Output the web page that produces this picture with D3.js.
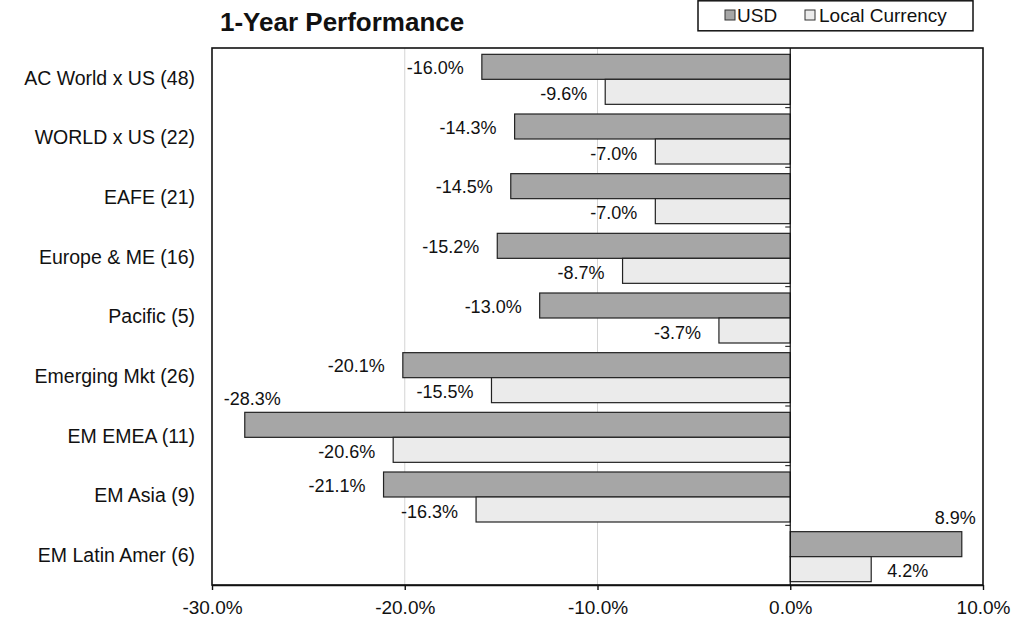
<!DOCTYPE html>
<html>
<head>
<meta charset="utf-8">
<script src="https://cdn.jsdelivr.net/npm/d3@7"></script>
<style>
  body { margin: 0; background: #fff; }
  svg text { font-family: "Liberation Sans", Arial, sans-serif; fill: #111; }
</style>
</head>
<body>
<svg id="chart" width="1030" height="621"></svg>
<script>
const categories = ["AC World x US (48)", "WORLD x US (22)", "EAFE (21)", "Europe & ME (16)",
    "Pacific (5)", "Emerging Mkt (26)", "EM EMEA (11)", "EM Asia (9)", "EM Latin Amer (6)"];
const usd = [-16.0, -14.3, -14.5, -15.2, -13.0, -20.1, -28.3, -21.1, 8.9];
const local = [-9.6, -7.0, -7.0, -8.7, -3.7, -15.5, -20.6, -16.3, 4.2];
const seriesNames = ["USD", "Local Currency"];
const xTicks = [-30, -20, -10, 0, 10];

const colors = { "USD": "#a6a6a6", "Local Currency": "#ebebeb" };

const svg = d3.select("#chart");
const plot = { left: 212, right: 983, top: 48, bottom: 585 };

const x = d3.scaleLinear().domain([-30, 10]).range([plot.left, plot.right]);
const y = d3.scaleBand().domain(categories).range([plot.top, plot.bottom]);
const barH = 25;
const inner = d3.scaleBand().domain(seriesNames).range([0, barH * 2]);

const rows = [];
categories.forEach((c, i) => {
    rows.push({ cat: c, series: "USD", value: usd[i] });
    rows.push({ cat: c, series: "Local Currency", value: local[i] });
});

// gridlines
svg.append("g").selectAll("line")
    .data(xTicks.filter(t => t !== 0 && t !== -30 && t !== 10))
    .join("line")
    .attr("x1", d => x(d)).attr("x2", d => x(d))
    .attr("y1", plot.top).attr("y2", plot.bottom)
    .attr("stroke", "#d4d4d4").attr("stroke-width", 1);

const barTop = d => y(d.cat) + (y.bandwidth() - barH * 2) / 2 + 1.5 + inner(d.series);

svg.append("g").selectAll("rect")
    .data(rows)
    .join("rect")
    .attr("x", d => x(Math.min(0, d.value)))
    .attr("y", barTop)
    .attr("width", d => Math.abs(x(d.value) - x(0)))
    .attr("height", barH)
    .attr("fill", d => colors[d.series])
    .attr("stroke", "#222")
    .attr("stroke-width", 1.2);

// zero axis with category separators
const zero = svg.append("g");
zero.append("line")
    .attr("x1", x(0)).attr("x2", x(0))
    .attr("y1", plot.top).attr("y2", plot.bottom)
    .attr("stroke", "#111").attr("stroke-width", 1.2);
zero.selectAll("line.sep")
    .data(categories.slice(1))
    .join("line")
    .attr("class", "sep")
    .attr("x1", x(0) - 5).attr("x2", x(0))
    .attr("y1", d => y(d)).attr("y2", d => y(d))
    .attr("stroke", "#111").attr("stroke-width", 1);

// value labels
const fmt = v => v.toFixed(1) + "%";
svg.append("g").selectAll("text")
    .data(rows)
    .join("text")
    .style("font-size", "18px")
    .each(function (d) {
        const t = d3.select(this).text(fmt(d.value));
        const w = this.getComputedTextLength();
        const end = x(d.value);
        const top = barTop(d);
        const cy = top + barH / 2 + (d.series === "USD" ? 1 : 2);
        if (d.value < 0) {
            if (end - 18 - w < plot.left + 4) {
                t.attr("x", end - 21).attr("y", top - 14).attr("text-anchor", "start");
            } else {
                t.attr("x", end - 18).attr("y", cy).attr("text-anchor", "end");
            }
        } else {
            if (end + 16 + w > plot.right - 4) {
                t.attr("x", end + 14).attr("y", top - 14).attr("text-anchor", "end");
            } else {
                t.attr("x", end + 16).attr("y", cy).attr("text-anchor", "start");
            }
        }
        t.attr("dy", "0.35em");
    });

// plot border
svg.append("rect")
    .attr("x", plot.left).attr("y", plot.top)
    .attr("width", plot.right - plot.left).attr("height", plot.bottom - plot.top)
    .attr("fill", "none").attr("stroke", "#111").attr("stroke-width", 1.6);

// x axis
const xAxis = svg.append("g")
    .attr("transform", `translate(0, ${plot.bottom})`)
    .call(d3.axisBottom(x).tickValues(xTicks).tickFormat(fmt).tickSize(5).tickSizeOuter(0));
xAxis.select(".domain").attr("stroke", "#111").attr("stroke-width", 1.6);
xAxis.selectAll(".tick line").attr("stroke", "#111").attr("stroke-width", 1.4);
xAxis.selectAll(".tick text")
    .attr("y", 16)
    .style("font-size", "19px")
    .style("font-family", "'Liberation Sans', Arial, sans-serif")
    .attr("fill", "#111");

// category labels
svg.append("g").selectAll("text")
    .data(categories)
    .join("text")
    .attr("x", 195)
    .attr("y", d => y(d) + y.bandwidth() / 2)
    .attr("dy", "0.35em")
    .attr("text-anchor", "end")
    .style("font-size", "19.5px")
    .text(d => d);

// title
svg.append("text")
    .attr("x", 220).attr("y", 31)
    .style("font-size", "26px").style("font-weight", "bold")
    .text("1-Year Performance");

// legend
const legend = svg.append("g");
legend.append("rect")
    .attr("x", 698).attr("y", 0.8).attr("width", 275).attr("height", 30)
    .attr("fill", "#fff").attr("stroke", "#111").attr("stroke-width", 1.5);
const items = [{ name: "USD", sx: 725, tx: 737 }, { name: "Local Currency", sx: 805, tx: 819 }];
items.forEach(it => {
    legend.append("rect")
        .attr("x", it.sx).attr("y", 10).attr("width", 10).attr("height", 10)
        .attr("fill", colors[it.name]).attr("stroke", "#333").attr("stroke-width", 1);
    legend.append("text")
        .attr("x", it.tx).attr("y", 22)
        .style("font-size", "19px")
        .text(it.name === "USD" ? "USD" : "Local Currency");
});
</script>
</body>
</html>
